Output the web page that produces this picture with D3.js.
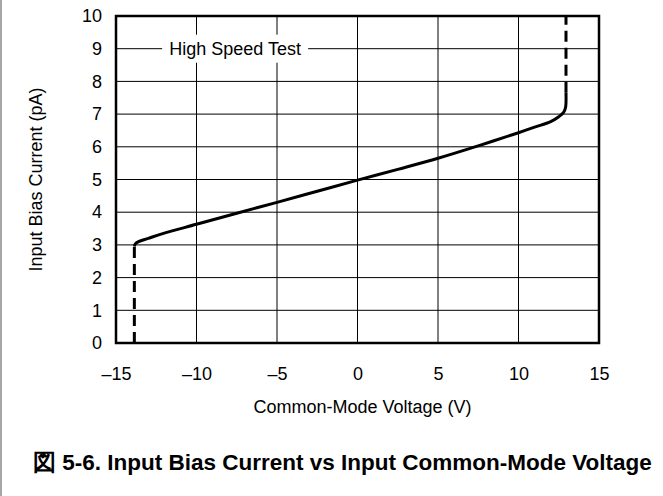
<!DOCTYPE html>
<html>
<head>
<meta charset="utf-8">
<script src="https://cdn.jsdelivr.net/npm/d3@7"></script>
<style>
  html, body { margin: 0; padding: 0; background: #fff; }
  svg { display: block; font-family: "Liberation Sans", Arial, sans-serif; }
</style>
</head>
<body>
<svg width="663" height="496"></svg>
<script>
// axis ticks
var xTicks = [-15, -10, -5, 0, 5, 10, 15];
var yTicks = [0, 1, 2, 3, 4, 5, 6, 7, 8, 9, 10];

// measured curve, common-mode voltage (V) vs input bias current (pA)
var vcm = [-13.86, -13.8, -13.6, -13, -12, -10, -7.5, -5, -2.5, 0, 2.5, 5, 7.5, 10, 11, 12, 12.5, 12.8, 12.92, 12.95, 12.95];
var ib  = [2.95, 3.03, 3.1, 3.2, 3.36, 3.63, 3.97, 4.3, 4.64, 4.98, 5.31, 5.65, 6.03, 6.43, 6.6, 6.77, 6.92, 7.05, 7.2, 7.35, 7.65];

// dashed extensions at the rails
var lowV = [-13.86, -13.86], lowI = [0, 2.95];
var highV = [12.95, 12.95], highI = [7.65, 10];

var svg = d3.select("svg");

var margin = {left: 116, right: 64, top: 16, bottom: 153};
var width = 663 - margin.left - margin.right,
    height = 496 - margin.top - margin.bottom;

var x = d3.scaleLinear().domain([-15, 15]).range([margin.left, margin.left + width]);
var y = d3.scaleLinear().domain([0, 10]).range([margin.top + height, margin.top]);

// thin grey rule down the left edge of the page
svg.append("line")
  .attr("x1", 1).attr("x2", 1).attr("y1", 0).attr("y2", 496)
  .attr("stroke", "#888").attr("stroke-width", 1.5);

// grid
var grid = svg.append("g").attr("stroke", "#000").attr("stroke-width", 1);
grid.selectAll(".vg").data(xTicks.slice(1, -1)).enter().append("line")
  .attr("x1", function (d) { return x(d); }).attr("x2", function (d) { return x(d); })
  .attr("y1", y(0)).attr("y2", y(10));
grid.selectAll(".hg").data(yTicks.slice(1, -1)).enter().append("line")
  .attr("x1", x(-15)).attr("x2", x(15))
  .attr("y1", function (d) { return y(d); }).attr("y2", function (d) { return y(d); });

// label box over the grid
var note = svg.append("g");
note.append("rect")
  .attr("x", x(-7.6) - 73).attr("y", y(9) - 14)
  .attr("width", 146).attr("height", 28)
  .attr("fill", "#fff");
note.append("text")
  .attr("x", x(-7.6)).attr("y", y(9) + 6.5)
  .attr("text-anchor", "middle")
  .attr("font-size", 18)
  .text("High Speed Test");

// axes: tick labels only, frame drawn separately
var xAxis = svg.append("g")
  .attr("transform", "translate(0," + y(0) + ")")
  .call(d3.axisBottom(x).tickValues(xTicks).tickSize(0).tickPadding(24)
    .tickFormat(function (d) { return d < 0 ? "\u2013" + Math.abs(d) : d; }));
var yAxis = svg.append("g")
  .attr("transform", "translate(" + x(-15) + ",0)")
  .call(d3.axisLeft(y).tickValues(yTicks).tickSize(0).tickPadding(14));
[xAxis, yAxis].forEach(function (a) {
  a.select(".domain").remove();
  a.selectAll("text").attr("font-size", 18).attr("fill", "#000")
    .style("font-family", "Liberation Sans, Arial, sans-serif");
});

// frame
svg.append("rect")
  .attr("x", x(-15)).attr("y", y(10))
  .attr("width", x(15) - x(-15)).attr("height", y(0) - y(10))
  .attr("fill", "none").attr("stroke", "#000").attr("stroke-width", 2.5);

// data lines
var line = d3.line()
  .x(function (d) { return x(d[0]); })
  .y(function (d) { return y(d[1]); });

svg.append("path")
  .datum(d3.zip(vcm, ib))
  .attr("d", line.curve(d3.curveCatmullRom.alpha(0.5)))
  .attr("fill", "none").attr("stroke", "#000").attr("stroke-width", 3)
  .attr("stroke-linejoin", "round");

[[lowV, lowI], [highV, highI]].forEach(function (s) {
  svg.append("path")
    .datum(d3.zip(s[0], s[1]))
    .attr("d", d3.line().x(function (d) { return x(d[0]); }).y(function (d) { return y(d[1]); }))
    .attr("fill", "none").attr("stroke", "#000").attr("stroke-width", 3)
    .attr("stroke-dasharray", "11,6");
});

// axis titles
svg.append("text")
  .attr("x", x(0) + 5).attr("y", 413)
  .attr("text-anchor", "middle").attr("font-size", 18)
  .text("Common-Mode Voltage (V)");
svg.append("text")
  .attr("transform", "translate(42," + y(5) + ") rotate(-90)")
  .attr("text-anchor", "middle").attr("font-size", 18)
  .text("Input Bias Current (pA)");

// figure caption
svg.append("text")
  .attr("x", 33).attr("y", 470)
  .attr("font-size", 22.5).attr("font-weight", "bold")
  .text("\u56f3 5-6. Input Bias Current vs Input Common-Mode Voltage");
</script>
</body>
</html>
